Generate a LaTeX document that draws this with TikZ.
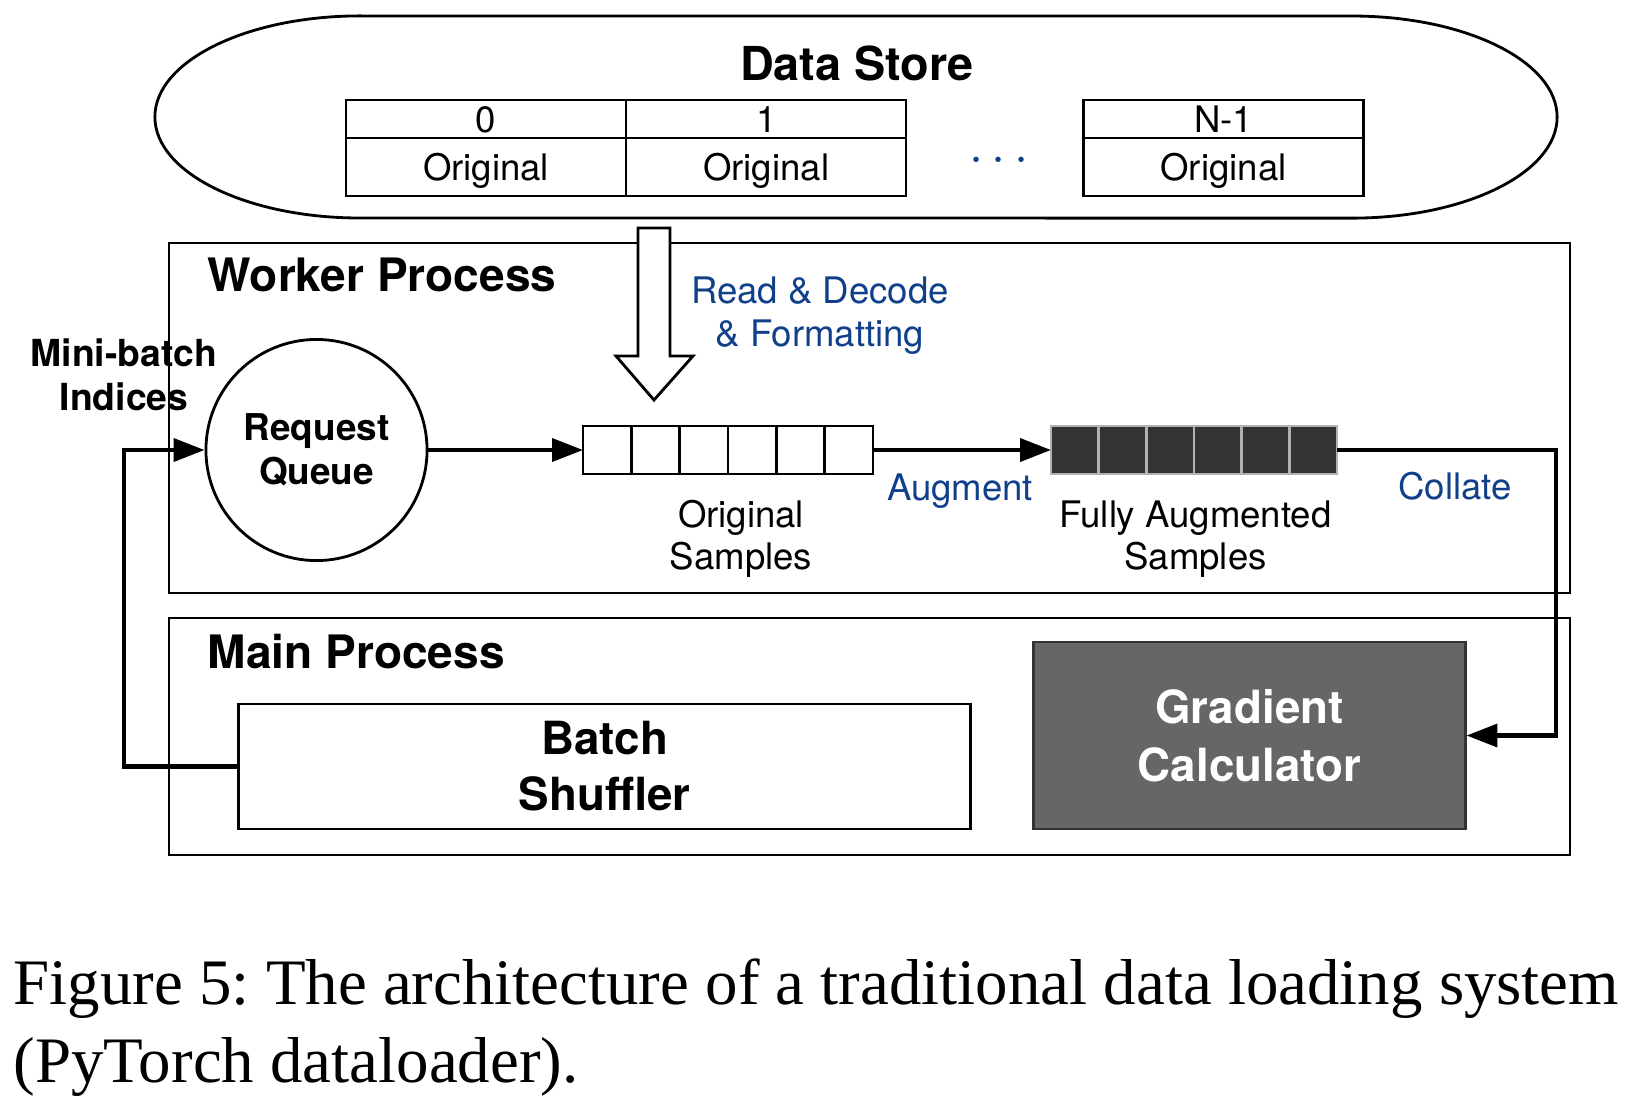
\documentclass[tikz,border=0pt]{standalone}
\usepackage{fontspec}
\setmainfont{TeX Gyre Heros}
\newfontfamily\capfont{Liberation Serif}
\usetikzlibrary{positioning,arrows.meta}
\definecolor{opblue}{RGB}{16,64,138}
\definecolor{slotdark}{RGB}{51,51,51}
\definecolor{gradgray}{RGB}{102,102,102}
\tikzset{
	frame/.style={line width=0.8pt},
	title/.style={font=\bfseries\fontsize{13.1}{15}\selectfont, anchor=base west, inner sep=0},
	txt/.style={font=\fontsize{10.4}{11.9}\selectfont, align=center, inner sep=0, anchor=base},
	optxt/.style={txt, text=opblue},
	cell/.style={draw, line width=0.7pt, minimum width=2.8cm, inner sep=0, outer sep=0, text height=7.5pt, text depth=0pt, font=\fontsize{10.4}{12}\selectfont},
	slot/.style={draw, line width=0.7pt, minimum width=0.4833cm, minimum height=0.48cm, inner sep=0, outer sep=0},
	fullslot/.style={slot, minimum width=0.4767cm, fill=slotdark, draw=black!30},
	flow/.style={line width=1.2pt, -{Triangle[length=8.8pt,width=6.5pt]}},
}

\begin{document}
\begin{tikzpicture}[x=0.01cm, y=0.01cm]
	\useasboundingbox (0,0) rectangle (1627,-1105);

	%STORE
	\draw[frame] (360,-16) -- (1352,-16) arc[start angle=90, end angle=-90, x radius=2.05cm, y radius=1.01cm] -- (360,-218) arc[start angle=270, end angle=90, x radius=2.05cm, y radius=1.01cm] -- cycle;
	\node[title, anchor=base, font=\bfseries\fontsize{13.3}{15}\selectfont] (store) at (857,-80) {Data Store};

	\node[cell, minimum height=0.38cm] (idx0) at (486,-119) {0};
	\node[cell, minimum height=0.38cm, right=0 of idx0] (idx1) {1};
	\node[cell, minimum height=0.38cm] (idxN) at (1223.5,-119) {N-1};
	\node[cell, minimum height=0.58cm, below=0 of idx0] (orig0) {Original};
	\node[cell, minimum height=0.58cm, below=0 of idx1] (orig1) {Original};
	\node[cell, minimum height=0.58cm, below=0 of idxN] (origN) {Original};
	\node[text=opblue, font=\fontsize{14}{14}\selectfont] (dots) at (999,-161) {$\cdots$};

	%WORKER
	\draw[frame] (169,-243) rectangle (1570,-593);
	\node[title] (worker) at (207,-291) {Worker Process};
	\draw[frame, fill=white] (638,-228) -- (670,-228) -- (670,-356) -- (693,-356) -- (654,-400) -- (616,-356) -- (638,-356) -- cycle;
	\node[optxt, font=\fontsize{10.4}{12}\selectfont] (read) at (820,-346) {Read \& Decode\\\& Formatting};

	\node[circle, draw, frame, minimum size=2.21cm, inner sep=0, align=center, font=\bfseries\fontsize{10.5}{12.5}\selectfont] (rq) at (316.5,-450) {Request\\Queue};
	\node[align=center, anchor=base, inner sep=0, font=\bfseries\fontsize{10.6}{12.5}\selectfont] (mini) at (124,-410) {Mini-batch\\Indices};

	\foreach \i in {1,...,6}{
		\node[slot] (o\i) at ({583+48.33*(\i-0.5)},-450) {};
		\node[fullslot] (a\i) at ({1051+47.67*(\i-0.5)},-450) {};
	}
	\node[txt] (origlab) at (741,-569) {Original\\Samples};
	\node[txt] (fulllab) at (1195.5,-569) {Fully Augmented\\Samples};
	\node[optxt] (augment) at (960,-500) {Augment};
	\node[optxt] (collate) at (1455,-499) {Collate};

	%MAIN
	\draw[frame] (169,-618) rectangle (1570,-855);
	\node[title] (mainp) at (207,-668) {Main Process};
	\node[draw, frame, minimum width=7.31cm, minimum height=1.25cm, align=center, font=\bfseries\fontsize{13}{15.9}\selectfont] (batch) at (604.5,-766.5) {Batch\\Shuffler};
	\node[draw=black!80, frame, fill=gradgray, text=white, minimum width=4.31cm, minimum height=1.87cm, align=center, font=\bfseries\fontsize{13}{16.4}\selectfont] (grad) at (1249.5,-735.5) {Gradient\\Calculator};

	%ARROWS
	\coordinate (turnL) at (124,-450);
	\coordinate (turnR) at (1556,-450);
	\draw[flow] (rq.east) -- (o1.west);
	\draw[flow] (o6.east) -- (a1.west);
	\draw[flow] (a6.east) -- (turnR) |- (grad.east);
	\draw[flow] (batch.west) -| (turnL) -- (rq.west);

	%CAPTION
	\node[font=\capfont\frenchspacing\fontsize{18.45}{22.1}\selectfont, align=left, anchor=base west, inner sep=0] (caption) at (13,-1082) {Figure 5: The architecture of a traditional data loading system\\(PyTorch dataloader).};
\end{tikzpicture}
\end{document}
